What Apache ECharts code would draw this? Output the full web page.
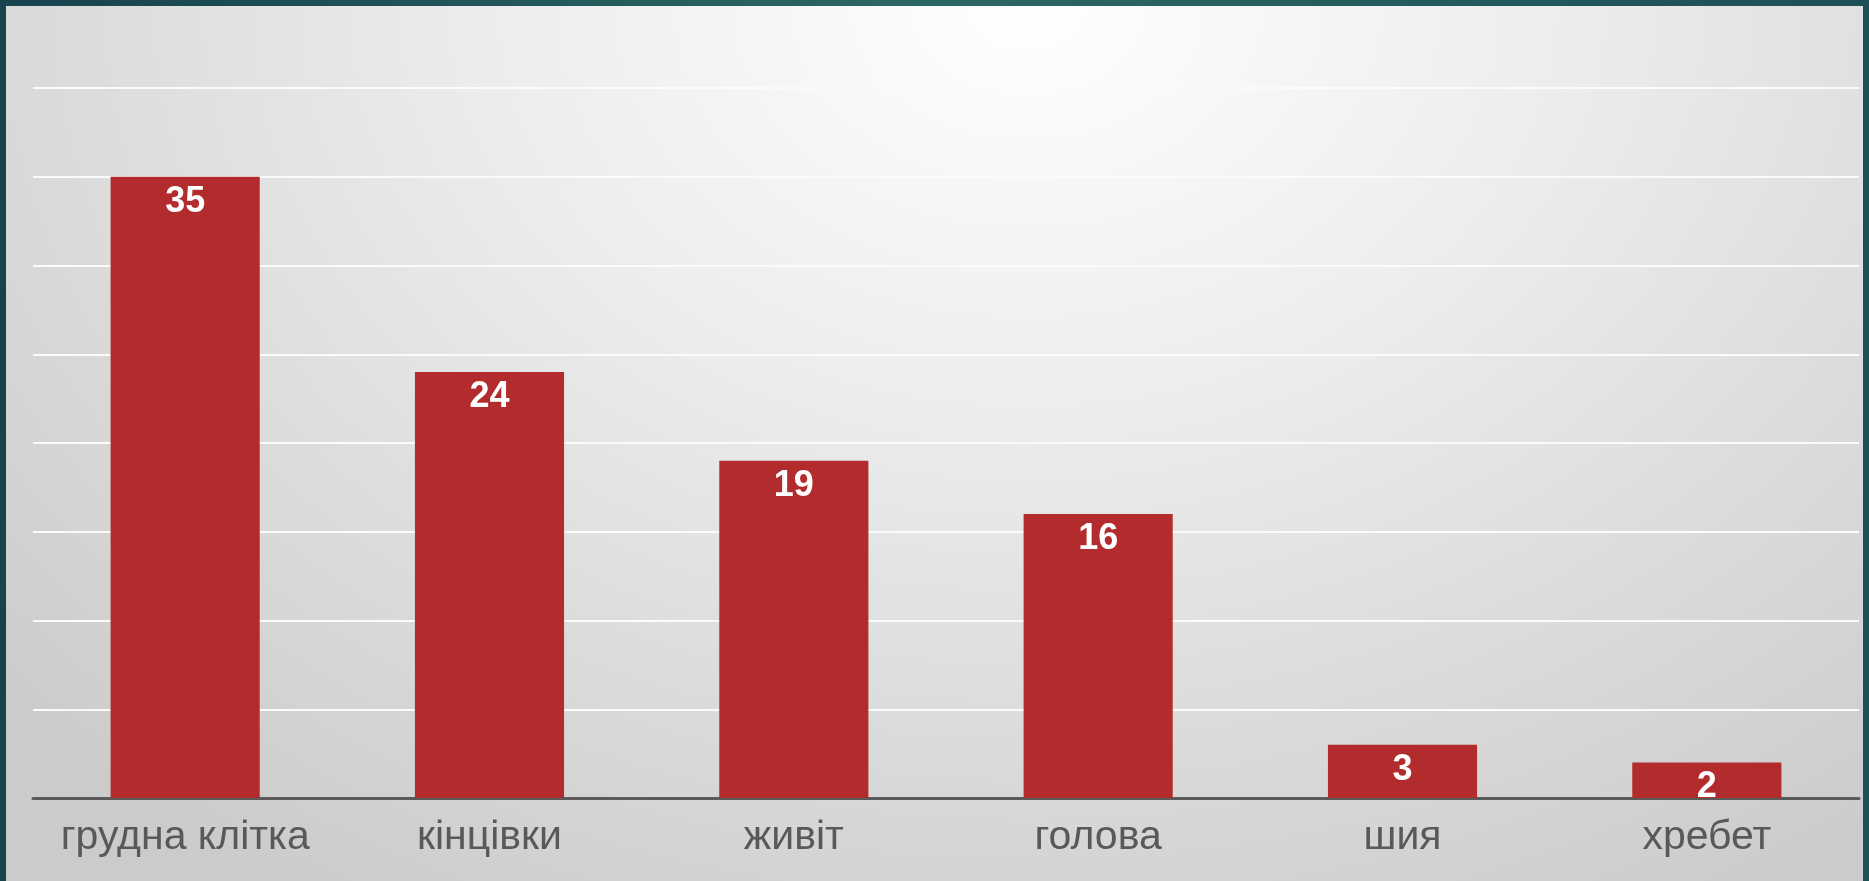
<!DOCTYPE html>
<html>
<head>
<meta charset="utf-8">
<script src="https://cdn.jsdelivr.net/npm/echarts@6/dist/echarts.min.js"></script>
<style>
  html, body { margin: 0; padding: 0; width: 1869px; height: 881px; overflow: hidden; }
  #frame { position: absolute; left: 0; top: 0; width: 1869px; height: 881px;
           background: linear-gradient(90deg, #17434e 0%, #2c6863 50%, #1d4f57 100%); }
  #chart { position: absolute; left: 6px; top: 6px; width: 1857px; height: 875px;
           background: radial-gradient(ellipse 75% 120% at 55% 0%, #ffffff 0%, #ededed 38%, #dcdcdc 68%, #cbcbcb 100%); }
</style>
</head>
<body>
<div id="frame"><div id="chart"></div></div>
<script>
// Injury locations and case counts
const categories = ['грудна клітка', 'кінцівки', 'живіт', 'голова', 'шия', 'хребет'];
const counts = [35, 24, 19, 16, 3, 2];
const yTicks = { min: 0, max: 40, interval: 5 };

const chart = echarts.init(document.getElementById('chart'), null, { renderer: 'canvas' });

chart.setOption({
  backgroundColor: 'transparent',
  animation: false,
  grid: { left: 27, right: 4, top: 82, bottom: 83, containLabel: false },
  xAxis: {
    type: 'category',
    data: categories,
    axisLine: { show: true, lineStyle: { color: '#5a5a5a', width: 3 } },
    axisTick: { show: false },
    axisLabel: {
      interval: 0, hideOverlap: false,
      color: '#595959', fontSize: 41, margin: 19,
      fontFamily: 'Liberation Sans, Arial, sans-serif'
    }
  },
  yAxis: {
    type: 'value',
    min: yTicks.min, max: yTicks.max, interval: yTicks.interval,
    axisLabel: { show: false },
    axisLine: { show: false },
    axisTick: { show: false },
    splitLine: { show: true, lineStyle: { color: '#fbfbfb', width: 2 } }
  },
  series: [{
    type: 'bar',
    data: counts,
    barWidth: '49%',
    itemStyle: { color: '#b32c2d' },
    label: {
      show: true, position: 'insideTop', distance: 7,
      color: '#ffffff', fontSize: 36, fontWeight: 'bold',
      fontFamily: 'Liberation Sans, Arial, sans-serif'
    }
  }]
});
</script>
</body>
</html>
